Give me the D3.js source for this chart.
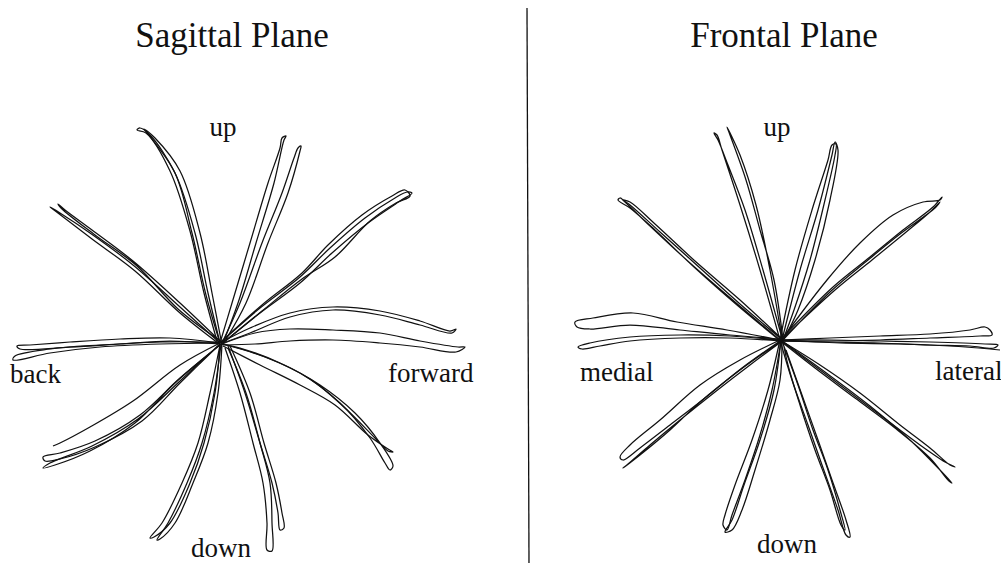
<!DOCTYPE html>
<html>
<head>
<meta charset="utf-8">
<script src="https://cdn.jsdelivr.net/npm/d3@7"></script>
<style>
  html, body { margin: 0; padding: 0; background: #fff; }
  svg { display: block; }
  text { font-family: "Liberation Serif", "Times New Roman", serif; fill: #111; }
</style>
</head>
<body>
<svg id="chart" width="1001" height="565"></svg>
<script>
// Hand-path traces, in mm relative to the start position (x: right, y: up).
// Each trace goes out to the target and comes back to the start.

// ---- Sagittal plane ----
const sagUp = [
  [[0,0],[-12,50],[-25,110],[-45,170],[-70,208],[-80,215],[-83,213],[-74,210],[-50,172],[-30,112],[-16,50],[-3,2]],
  [[2,-2],[-8,50],[-20,110],[-40,172],[-65,205],[-76,214],[-72,209],[-45,170],[-28,110],[-14,48],[0,0]]
];
const sagUpFwd = [
  [[0,0],[12,40],[30,100],[48,160],[60,195],[62,205],[66,207],[64,203],[54,160],[36,100],[18,40],[3,0]],
  [[2,0],[20,40],[42,100],[62,150],[74,185],[78,195],[81,197],[80,192],[68,150],[48,100],[26,40],[5,2]]
];
const sagFwdUp = [
  [[0,0],[40,35],[80,66],[110,95],[145,125],[175,145],[187,151],[192,150],[180,142],[148,120],[112,90],[80,60],[40,30],[3,0]],
  [[2,2],[42,38],[82,70],[108,98],[142,128],[172,147],[185,153],[190,147],[176,140],[150,122],[115,86],[82,64],[42,32],[4,1]]
];
const sagFwd = [
  [[0,0],[30,15],[70,30],[113,36],[160,32],[200,22],[230,12],[236,14],[232,10],[200,18],[160,28],[113,33],[70,26],[30,10],[3,0]],
  [[2,-1],[35,10],[70,14],[113,13],[160,10],[200,2],[238,-4],[245,-4],[236,-9],[200,-4],[160,0],[113,3],[70,2],[35,-1],[3,-2]]
];
const sagBackUp = [
  [[0,0],[-40,36],[-87,78],[-130,110],[-160,130],[-170,136],[-166,133],[-128,104],[-85,72],[-40,30],[-2,0]],
  [[1,1],[-40,40],[-87,82],[-128,113],[-155,133],[-162,139],[-158,134],[-125,108],[-83,77],[-42,34],[0,2]]
];
const sagBack = [
  [[0,0],[-50,5],[-100,4],[-150,1],[-190,-2],[-203,-3],[-200,-6],[-150,-4],[-100,-1],[-50,2],[0,-1]],
  [[0,0],[-60,-1],[-120,-4],[-170,-10],[-207,-17],[-205,-13],[-170,-6],[-120,-2],[-60,1],[0,1]]
];
const sagBackDown = [
  [[0,0],[-40,-22],[-87,-58],[-130,-84],[-160,-100],[-167,-103]],
  [[0,-2],[-40,-35],[-80,-72],[-125,-98],[-160,-110],[-177,-114],[-175,-118],[-160,-116],[-125,-104],[-78,-78],[-40,-40],[-2,-3]],
  [[1,-1],[-45,-40],[-85,-80],[-130,-108],[-165,-122],[-177,-125],[-170,-120],[-128,-103],[-82,-76],[-40,-38],[0,-1]]
];
const sagDownBack = [
  [[0,-2],[-10,-50],[-22,-100],[-38,-140],[-58,-180],[-70,-195],[-66,-194],[-50,-180],[-30,-140],[-16,-100],[-5,-50],[0,-2]],
  [[1,-1],[-6,-50],[-18,-100],[-33,-140],[-52,-180],[-63,-197],[-60,-196],[-45,-180],[-27,-140],[-12,-100],[-2,-50],[2,-1]]
];
const sagDown = [
  [[5,-5],[20,-50],[33,-100],[43,-140],[47,-180],[47,-207],[52,-208],[52,-180],[50,-140],[40,-100],[26,-50],[8,-5]],
  [[8,-3],[25,-50],[40,-100],[52,-140],[58,-170],[60,-187],[64,-185],[62,-170],[56,-140],[44,-100],[30,-50],[10,-3]]
];
const sagFwdDown = [
  [[0,0],[40,-12],[80,-30],[120,-60],[150,-95],[165,-120],[170,-127],[173,-123],[160,-100],[135,-70],[100,-42],[60,-20],[20,-5],[2,-1]],
  [[2,-1],[45,-14],[90,-36],[125,-65],[155,-95],[168,-108],[173,-109],[168,-106],[148,-92],[115,-62],[80,-42],[40,-22],[3,-3]]
];

// ---- Frontal plane ----
const froUp = [
  [[0,0],[-20,70],[-40,135],[-58,190],[-63,205],[-66,207],[-62,200],[-52,175],[-35,130],[-17,70],[2,2]],
  [[2,1],[-10,70],[-24,135],[-40,185],[-53,213],[-50,205],[-34,160],[-20,110],[-6,60],[3,0]]
];
const froUpLat = [
  [[0,0],[15,70],[32,130],[48,180],[52,195],[56,196],[55,185],[45,140],[30,80],[14,30],[3,0]],
  [[2,0],[20,70],[38,130],[52,185],[55,198],[58,190],[50,140],[35,80],[18,30],[4,1]]
];
const froLatUp = [
  [[0,0],[53,53],[90,83],[123,110],[153,133],[162,143],[160,140],[143,138],[113,125],[80,97],[47,60],[2,1]],
  [[1,0],[55,50],[92,80],[125,107],[150,128],[160,138],[155,132],[120,106],[88,80],[50,48],[2,-1]]
];
const froLat = [
  [[0,0],[50,2],[100,4],[150,6],[190,10],[205,13],[210,10],[212,5],[200,4],[150,2],[100,0],[50,-1],[0,-1]],
  [[0,-1],[50,-2],[100,-3],[150,-5],[190,-6],[214,-8],[218,-5],[205,-4],[150,-2],[100,-1],[50,0],[2,0]],
  [[1,0],[60,-3],[120,-4],[170,-6],[210,-9],[220,-10]]
];
const froMedUp = [
  [[0,0],[-45,38],[-90,77],[-130,114],[-155,138],[-160,142],[-162,140],[-150,132],[-125,110],[-86,73],[-43,35],[-2,1]],
  [[2,1],[-40,40],[-85,79],[-125,116],[-150,138],[-157,140],[-150,135],[-120,108],[-80,72],[-40,36],[0,2]]
];
const froMed = [
  [[0,0],[-53,10],[-103,18],[-147,27],[-187,22],[-205,18],[-203,13],[-190,11],[-150,15],[-100,10],[-50,5],[0,1]],
  [[0,0],[-50,4],[-100,5],[-150,3],[-190,-3],[-202,-7],[-198,-9],[-180,-6],[-150,-1],[-100,2],[-50,2],[0,-1]]
];
const froMedDown = [
  [[0,0],[-40,-20],[-80,-45],[-120,-80],[-150,-105],[-160,-117],[-157,-120],[-140,-108],[-110,-85],[-75,-58],[-38,-28],[0,-1]],
  [[1,-1],[-40,-30],[-80,-62],[-110,-90],[-140,-115],[-157,-128],[-152,-124],[-130,-105],[-100,-80],[-65,-52],[-30,-25],[1,-2]]
];
const froDownMed = [
  [[0,0],[-12,-50],[-28,-100],[-45,-145],[-55,-175],[-57,-185],[-53,-190],[-48,-175],[-35,-140],[-20,-95],[-8,-50],[1,-1]],
  [[1,0],[-6,-50],[-20,-100],[-36,-145],[-48,-180],[-55,-192],[-48,-190],[-38,-170],[-25,-130],[-10,-80],[0,-40],[2,0]]
];
const froDownLat = [
  [[0,0],[12,-40],[28,-85],[42,-125],[58,-170],[66,-195],[70,-197],[66,-180],[52,-140],[38,-100],[22,-55],[6,-10]],
  [[2,-1],[18,-45],[33,-90],[48,-130],[60,-170],[65,-190],[61,-185],[50,-150],[35,-110],[20,-65],[8,-25],[3,-2]]
];
const froLatDown = [
  [[0,0],[40,-25],[80,-53],[120,-85],[150,-108],[170,-125],[175,-127],[165,-122],[140,-105],[100,-75],[60,-45],[20,-15],[2,-1]],
  [[2,-1],[45,-32],[90,-66],[130,-100],[160,-130],[172,-143],[168,-140],[150,-118],[115,-88],[75,-58],[35,-28],[3,-3]]
];

// Titles and direction labels
const panelTitles = ["Sagittal Plane", "Frontal Plane"];
const sagLabels = ["up", "back", "forward", "down"];
const froLabels = ["up", "medial", "lateral", "down"];

const sagTraces = [sagUp, sagUpFwd, sagFwdUp, sagFwd, sagBackUp, sagBack, sagBackDown, sagDownBack, sagDown, sagFwdDown];
const froTraces = [froUp, froUpLat, froLatUp, froLat, froMedUp, froMed, froMedDown, froDownMed, froDownLat, froLatDown];

const svg = d3.select("#chart");

// Layout of the two panels (start position in page pixels)
const panels = [
  {title: panelTitles[0], titleX: 232, cx: 220, cy: 343, traces: sagTraces,
   labels: [
     {t: sagLabels[0], x: 223, y: 136, a: "middle"},
     {t: sagLabels[1], x: 10, y: 383, a: "start"},
     {t: sagLabels[2], x: 388, y: 382, a: "start"},
     {t: sagLabels[3], x: 221, y: 557, a: "middle"}
   ]},
  {title: panelTitles[1], titleX: 784, cx: 780, cy: 340, traces: froTraces,
   labels: [
     {t: froLabels[0], x: 777, y: 136, a: "middle"},
     {t: froLabels[1], x: 580, y: 381, a: "start"},
     {t: froLabels[2], x: 935, y: 380, a: "start"},
     {t: froLabels[3], x: 787, y: 553, a: "middle"}
   ]}
];

const line = d3.line().curve(d3.curveCatmullRom.alpha(0.5));

panels.forEach(p => {
  const x = d3.scaleLinear().domain([-250, 250]).range([p.cx - 250, p.cx + 250]);
  const y = d3.scaleLinear().domain([-250, 250]).range([p.cy + 250, p.cy - 250]);
  const g = svg.append("g");

  p.traces.forEach(dir => {
    g.selectAll(null)
      .data(dir)
      .join("path")
      .attr("d", d => line(d.map(([a, b]) => [x(a), y(b)])))
      .attr("fill", "none")
      .attr("stroke", "#111")
      .attr("stroke-width", 1.25)
      .attr("stroke-linejoin", "round");
  });

  svg.append("text")
    .attr("x", p.titleX).attr("y", 47)
    .attr("text-anchor", "middle")
    .attr("font-size", 35)
    .text(p.title);

  svg.selectAll(null)
    .data(p.labels)
    .join("text")
    .attr("x", d => d.x).attr("y", d => d.y)
    .attr("text-anchor", d => d.a)
    .attr("font-size", 27)
    .text(d => d.t);
});

// Divider between the panels
svg.append("line")
  .attr("x1", 527).attr("y1", 8)
  .attr("x2", 529).attr("y2", 563)
  .attr("stroke", "#111")
  .attr("stroke-width", 1.3);
</script>
</body>
</html>
